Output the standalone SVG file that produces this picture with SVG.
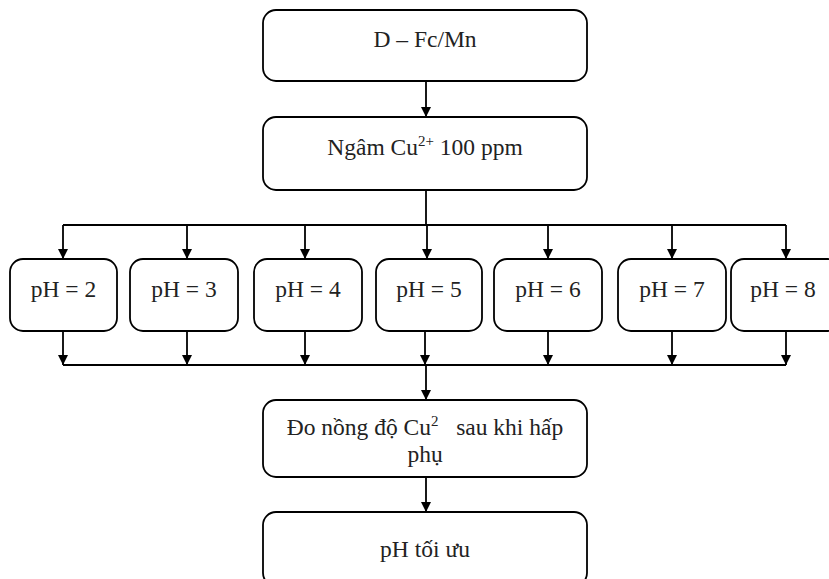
<svg xmlns="http://www.w3.org/2000/svg" width="829" height="579" viewBox="0 0 829 579">
<defs>
<marker id="ah" markerWidth="10" markerHeight="11" refX="10" refY="5" orient="auto" markerUnits="userSpaceOnUse" viewBox="0 0 10 10">
<path d="M0,0 L10,5 L0,10 z" fill="#000"/>
</marker>
</defs>
<style>
.box{fill:#fff;stroke:#000;stroke-width:1.8}
.t{font-family:'Liberation Serif','Times New Roman',serif;font-size:23.5px;fill:#222;text-anchor:middle}
.c{stroke:#000;stroke-width:1.8;fill:none}
.a{marker-end:url(#ah)}
</style>
<rect width="829" height="579" fill="#fff"/>
<g id="connectors">
<line class="c a" x1="426" y1="81" x2="426" y2="117"/>
<line class="c" x1="426" y1="190" x2="426" y2="225"/>
<line class="c" x1="63" y1="225" x2="786" y2="225"/>
<line class="c a" x1="63" y1="225" x2="63" y2="259"/>
<line class="c a" x1="187" y1="225" x2="187" y2="259"/>
<line class="c a" x1="305" y1="225" x2="305" y2="259"/>
<line class="c a" x1="427" y1="225" x2="427" y2="259"/>
<line class="c a" x1="548" y1="225" x2="548" y2="259"/>
<line class="c a" x1="672" y1="225" x2="672" y2="259"/>
<line class="c a" x1="786" y1="225" x2="786" y2="259"/>
<line class="c a" x1="63" y1="331" x2="63" y2="365"/>
<line class="c a" x1="187" y1="331" x2="187" y2="365"/>
<line class="c a" x1="305" y1="331" x2="305" y2="365"/>
<line class="c a" x1="425" y1="331" x2="425" y2="365"/>
<line class="c a" x1="548" y1="331" x2="548" y2="365"/>
<line class="c a" x1="672" y1="331" x2="672" y2="365"/>
<line class="c a" x1="786" y1="331" x2="786" y2="365"/>
<line class="c" x1="63" y1="365" x2="786" y2="365"/>
<line class="c a" x1="426" y1="365" x2="426" y2="400"/>
<line class="c a" x1="426" y1="477" x2="426" y2="512"/>
</g>
<g id="n-dfcmn">
<rect class="box" x="263" y="10" width="324" height="71" rx="13"/>
<text class="t" x="425" y="47">D – Fc/Mn</text>
</g>
<g id="n-ngam">
<rect class="box" x="263" y="117" width="324" height="73" rx="13"/>
<text class="t" x="425" y="155">Ngâm Cu<tspan font-size="15" dy="-9">2+</tspan><tspan dy="9"> 100 ppm</tspan></text>
</g>
<g id="n-ph2">
<rect class="box" x="10" y="259" width="107" height="72" rx="13"/>
<text class="t" x="63.5" y="297">pH = 2</text>
</g>
<g id="n-ph3">
<rect class="box" x="130" y="259" width="108" height="72" rx="13"/>
<text class="t" x="184" y="297">pH = 3</text>
</g>
<g id="n-ph4">
<rect class="box" x="254" y="259" width="108" height="72" rx="13"/>
<text class="t" x="308" y="297">pH = 4</text>
</g>
<g id="n-ph5">
<rect class="box" x="376" y="259" width="106" height="72" rx="13"/>
<text class="t" x="429" y="297">pH = 5</text>
</g>
<g id="n-ph6">
<rect class="box" x="494" y="259" width="108" height="72" rx="13"/>
<text class="t" x="548" y="297">pH = 6</text>
</g>
<g id="n-ph7">
<rect class="box" x="618" y="259" width="108" height="72" rx="13"/>
<text class="t" x="672" y="297">pH = 7</text>
</g>
<g id="n-ph8">
<rect class="box" x="731" y="259" width="110" height="72" rx="13"/>
<text class="t" x="783" y="297">pH = 8</text>
</g>
<g id="n-do">
<rect class="box" x="263" y="400" width="324" height="77" rx="13"/>
<text class="t" x="425" y="435">Đo nồng độ Cu<tspan font-size="15" dy="-9">2</tspan><tspan dy="9">&#160;&#160; sau khi hấp</tspan></text>
<text class="t" x="425" y="462">phụ</text>
</g>
<g id="n-phtoiuu">
<rect class="box" x="263" y="512" width="324" height="74" rx="13"/>
<text class="t" x="425" y="557">pH tối ưu</text>
</g>
</svg>
